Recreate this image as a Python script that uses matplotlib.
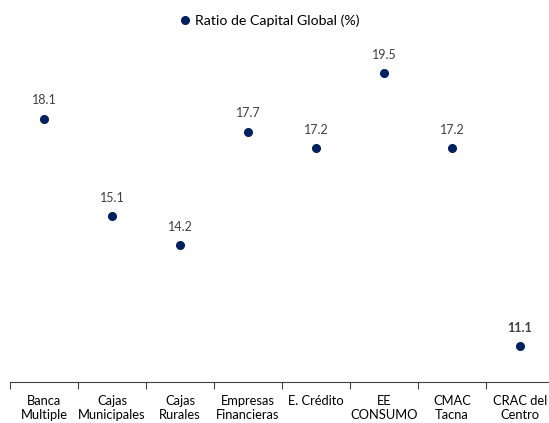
import matplotlib.pyplot as plt

plt.rcParams['font.family'] = ['Lato', 'DejaVu Sans']

categorias = ['Banca\nMultiple', 'Cajas\nMunicipales', 'Cajas\nRurales', 'Empresas\nFinancieras',
              'E. Crédito', 'EE\nCONSUMO', 'CMAC\nTacna', 'CRAC del\nCentro']
ratio = [18.1, 15.1, 14.2, 17.7, 17.2, 19.5, 17.2, 11.1]

navy = '#002060'
gris = '#404040'

fig = plt.figure(figsize=(5.49, 4.23), dpi=100)
ax = fig.add_axes([10 / 549, 1 - 382 / 423, 544 / 549, 325 / 423])

x = list(range(len(ratio)))
ax.plot(x, ratio, 'o', color=navy, markersize=5.5, linestyle='none', label='Ratio de Capital Global (%)')

for i, v in enumerate(ratio):
    ax.annotate(f'{v:.1f}', (i, v), xytext=(0, 9), textcoords='offset points',
                ha='center', va='bottom', fontsize=9, color=gris,
                fontweight='bold' if i == len(ratio) - 1 else 'normal')

ax.set_xlim(-0.5, 7.5)
ax.set_ylim(10, 20)
ax.set_yticks([])
ax.set_xticks([i - 0.5 for i in range(len(ratio))])
ax.set_xticklabels([])
ax.set_xticks(x, minor=True)
ax.set_xticklabels(categorias, minor=True, fontsize=9.3, color='black', linespacing=1.2)
ax.tick_params(axis='x', which='major', direction='out', length=5, width=0.8, color=gris)
ax.tick_params(axis='x', which='minor', length=0, pad=9.5)

for s in ['top', 'right', 'left']:
    ax.spines[s].set_visible(False)
ax.spines['bottom'].set_color(gris)
ax.spines['bottom'].set_linewidth(0.8)

fig.legend(loc='center', bbox_to_anchor=(268 / 549, 1 - 21 / 423), frameon=False,
           fontsize=10.2, handletextpad=0.1, handlelength=1.2)

fig.savefig('out.png', dpi=100)
